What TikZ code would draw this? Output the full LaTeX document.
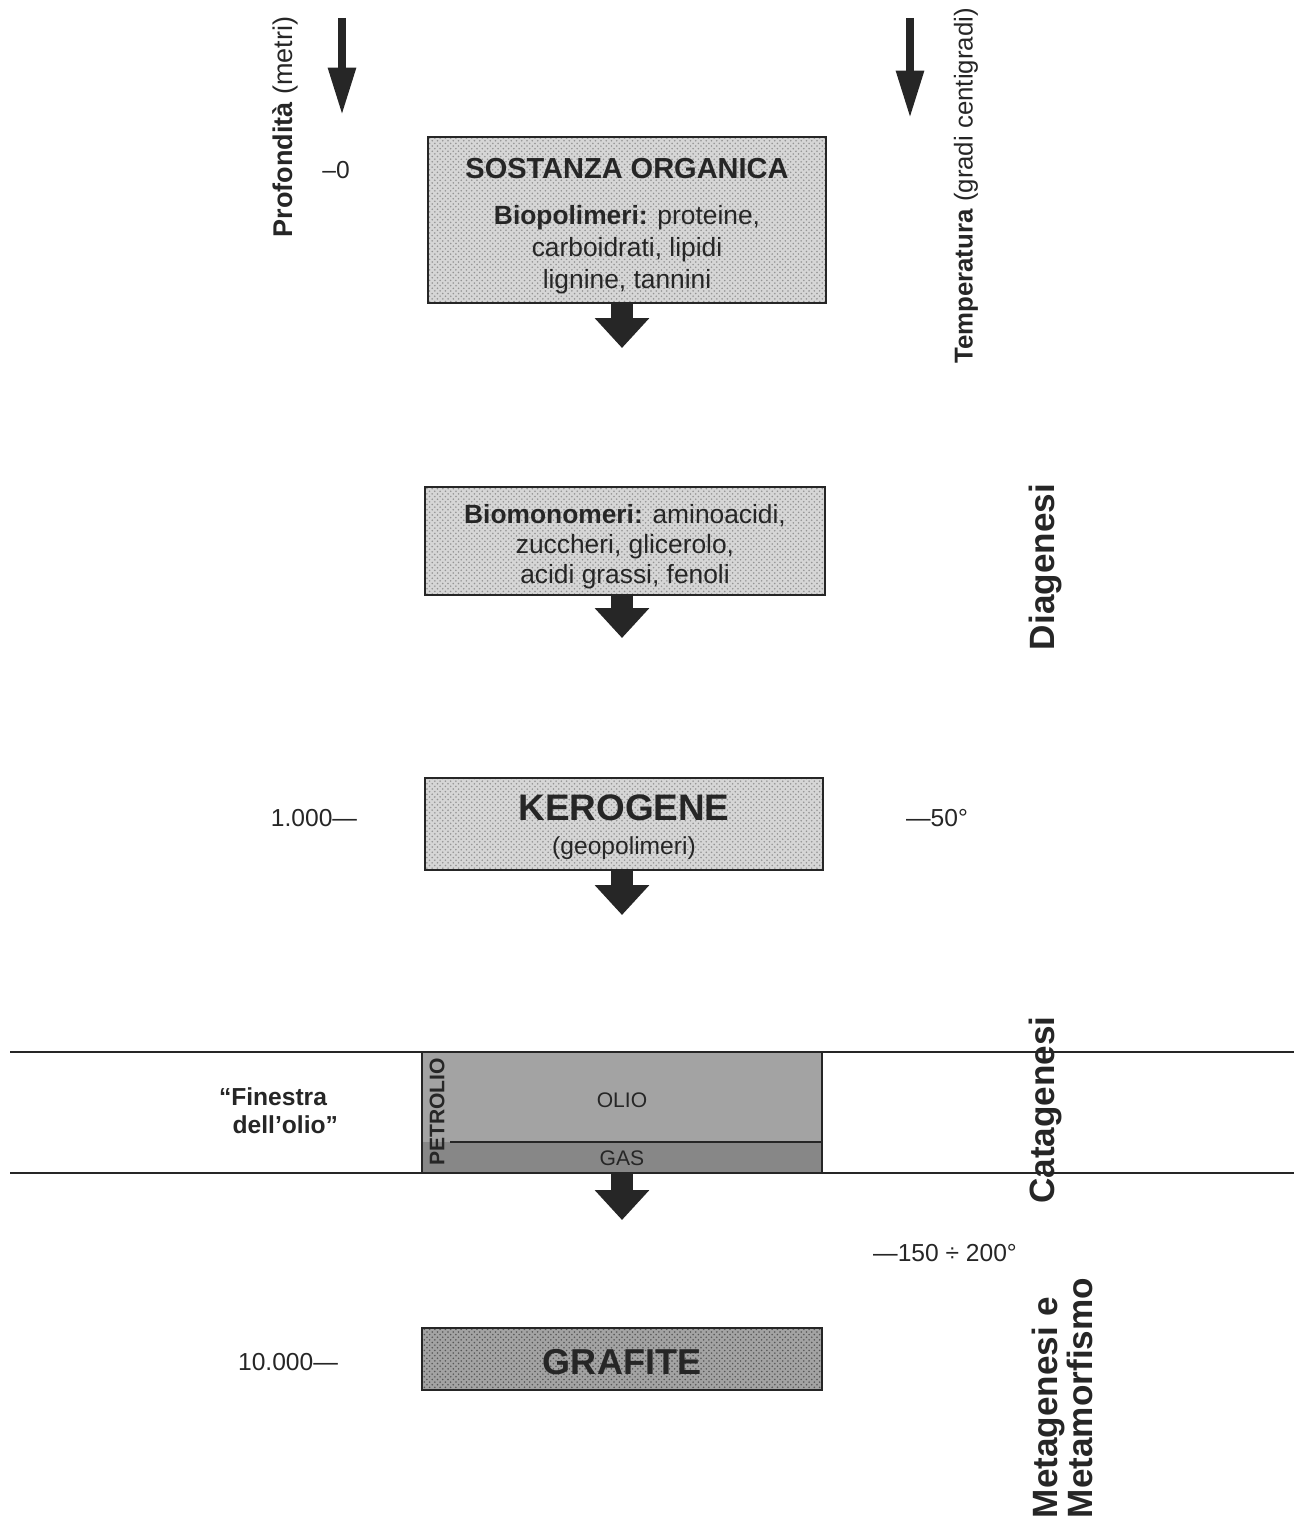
\documentclass[tikz,border=0pt]{standalone}
\usepackage{fontspec}
\setmainfont{Liberation Sans}
\usetikzlibrary{positioning, arrows.meta, patterns}

\definecolor{ink}{gray}{0.15}
\definecolor{oilgray}{gray}{0.64}
\definecolor{gasgray}{gray}{0.53}

\begin{document}
\begin{tikzpicture}[x=0.02cm, y=-0.02cm,
    stage/.style={rectangle, draw=ink, line width=0.9pt, inner sep=0pt,
      preaction={fill=black!16}, pattern=crosshatch dots, pattern color=black!42},
    stagetext/.style={text=ink, align=center, inner sep=0pt, yshift=-3.2pt},
    flow/.style={draw=ink, line width=13pt,
      -{Triangle[width=30pt, length=17pt]}},
    axis/.style={draw=ink, line width=4.5pt,
      -{Triangle[width=15pt, length=27pt]}},
    tick/.style={text=ink, font=\fontsize{14}{16}\selectfont},
    phase/.style={rotate=90, text=ink, font=\fontsize{20}{20}\selectfont\bfseries},
    band/.style={draw=ink, line width=0.8pt}
  ]
  \useasboundingbox (0,0) rectangle (1294,1527);

  % scales of depth and temperature
  \coordinate (d0) at (342,18);
  \coordinate (d1) at (342,115);
  \coordinate (t0) at (910,18);
  \coordinate (t1) at (910,118);
  \draw[axis] (d0) -- (d1);
  \draw[axis] (t0) -- (t1);
  \node[rotate=90, text=ink, font=\fontsize{15.4}{17}\selectfont]
    (depth) at (285,127) {\textbf{Profondità} (metri)};
  \node[rotate=90, text=ink, font=\fontsize{14.7}{17}\selectfont]
    (temp) at (966,186) {\textbf{Temperatura} (gradi centigradi)};
  \node[tick] (m0) at (336,170) {–0};
  \node[tick] (m1000) at (314,818) {1.000—};
  \node[tick] (m10000) at (288,1362) {10.000—};
  \node[tick] (t50) at (937,818) {—50°};
  \node[tick] (t150) at (945,1253) {—150 ÷ 200°};

  % stages
  \node[stage, minimum width=7.96cm, minimum height=3.32cm,
    label={[stagetext, font=\fontsize{15}{18.2}\selectfont]center:
      {\fontsize{16.5}{18}\selectfont\bfseries SOSTANZA ORGANICA}\\[8pt]
      \textbf{Biopolimeri:} proteine,\\carboidrati, lipidi\\lignine, tannini}]
    (sost) at (627,220) {};
  \node[stage, minimum width=8cm, minimum height=2.16cm,
    label={[stagetext, font=\fontsize{15}{17}\selectfont]center:
      \textbf{Biomonomeri:} aminoacidi,\\zuccheri, glicerolo,\\acidi grassi, fenoli}]
    (mono) at (625,541) {};
  \node[stage, minimum width=7.96cm, minimum height=1.84cm,
    label={[stagetext, yshift=1.3pt, font=\fontsize{14}{16}\selectfont]center:
      {\fontsize{21}{22}\selectfont\bfseries KEROGENE}\\[3pt](geopolimeri)}]
    (kero) at (624,824) {};

  % oil window
  \draw[band] (10,1052) -- (1294,1052);
  \draw[band] (10,1173) -- (1294,1173);
  \fill[oilgray] (422,1052) rectangle (822,1142);
  \fill[gasgray] (422,1142) rectangle (822,1173);
  \draw[band] (450,1142) -- (822,1142);
  \node[draw=ink, line width=0.9pt, minimum width=8cm, minimum height=2.42cm,
    inner sep=0pt] (petrolio) at (622,1112.5) {};
  \node[text=ink, font=\fontsize{12}{14}\selectfont] (olio) at (622,1100) {OLIO};
  \node[text=ink, font=\fontsize{12}{14}\selectfont] (gas) at (622,1158) {GAS};
  \node[rotate=90, text=ink, font=\fontsize{12}{14}\selectfont\bfseries]
    (petlabel) at (437,1112) {PETROLIO};
  \node[text=ink, align=center, font=\fontsize{14}{16}\selectfont\bfseries]
    (finestra) at (273,1111) {“Finestra\\\hspace*{1em}dell’olio”};

  \node[stage, minimum width=8cm, minimum height=1.24cm,
    preaction={fill=black!36}, pattern color=black!66,
    label={[stagetext, yshift=1.5pt, font=\fontsize{20.5}{22}\selectfont\bfseries]center:GRAFITE}]
    (grafite) at (622,1359) {};

  % arrows between stages
  \coordinate (e1) at (622,348);
  \coordinate (e2) at (622,638);
  \coordinate (e3) at (622,915);
  \coordinate (e4) at (622,1220);
  \draw[flow] (sost.south -| e1) -- (e1);
  \draw[flow] (mono.south -| e2) -- (e2);
  \draw[flow] (kero.south -| e3) -- (e3);
  \draw[flow] (petrolio.south -| e4) -- (e4);

  % phases
  \node[phase] (diag) at (1045,567) {Diagenesi};
  \node[phase] (cata) at (1045,1110) {Catagenesi};
  \node[phase, align=left] (meta) at (1062,1398) {Metagenesi e\\Metamorfismo};
\end{tikzpicture}
\end{document}
